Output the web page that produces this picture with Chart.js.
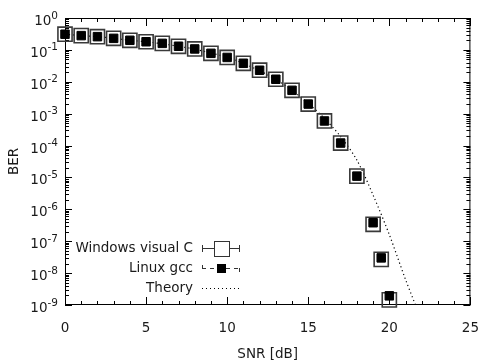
<!DOCTYPE html>
<html>
<head>
<meta charset="utf-8">
<script src="https://cdn.jsdelivr.net/npm/chart.js@4"></script>
<style>
  html, body { margin: 0; padding: 0; background: #fff; }
  #wrap { width: 482px; height: 363px; }
</style>
</head>
<body>
<div id="wrap"><canvas id="chartCanvas" width="482" height="363"></canvas></div>
<script>
// SNR points of the two simulations
const snr = [0, 1, 2, 3, 4, 5, 6, 7, 8, 9, 10, 11, 12, 13, 14, 15, 16, 17, 18, 19, 19.5, 20];
const berWindows = [0.31, 0.28, 0.26, 0.23, 0.20, 0.18, 0.16, 0.13, 0.107, 0.078, 0.058, 0.038, 0.023, 0.012,
    5.4e-3, 2.0e-3, 5.9e-4, 1.2e-4, 1.1e-5, 3.4e-7, 2.7e-8, 1.45e-9];
const berLinux = [0.31, 0.28, 0.26, 0.23, 0.20, 0.18, 0.16, 0.13, 0.107, 0.078, 0.058, 0.038, 0.023, 0.012,
    5.4e-3, 2.0e-3, 5.9e-4, 1.2e-4, 1.1e-5, 3.8e-7, 3.0e-8, 1.94e-9];

// theory curve
const snrTheory = [0, 1, 2, 3, 4, 5, 6, 7, 8, 9, 10, 11, 12, 13, 14, 15, 16, 17, 18, 19, 20, 21, 22];
const berTheory = [0.31, 0.28, 0.26, 0.23, 0.20, 0.18, 0.155, 0.13, 0.105, 0.08, 0.058, 0.038, 0.022, 0.012,
    5.4e-3, 2.1e-3, 7.1e-4, 1.9e-4, 3.5e-5, 2.8e-6, 1.6e-7, 6.3e-9, 3.2e-10];

const xTicks = [0, 5, 10, 15, 20, 25];
const yExponents = [0, -1, -2, -3, -4, -5, -6, -7, -8, -9];

const textColor = '#1a1a1a';
const fontFamily = '"DejaVu Sans", sans-serif';
const fontSize = 13.5;

function toPoints(xs, ys) {
    return xs.map((x, i) => ({ x: x, y: ys[i] }));
}

// frame and inward tick marks, drawn under the markers
const framePlugin = {
    id: 'frame',
    beforeDatasetsDraw(chart) {
        const { ctx, chartArea: a, scales } = chart;
        const xs = scales.x, ys = scales.y;
        ctx.save();
        ctx.strokeStyle = '#000';
        ctx.lineWidth = 1;
        ctx.strokeRect(a.left + 0.5, a.top + 0.5, a.right - a.left - 1, a.bottom - a.top - 1);
        ctx.beginPath();
        for (let v = 0; v <= 25; v++) {
            const px = Math.round(xs.getPixelForValue(v)) + 0.5;
            const len = v % 5 === 0 ? 8 : 4;
            ctx.moveTo(px, a.bottom); ctx.lineTo(px, a.bottom - len);
            ctx.moveTo(px, a.top); ctx.lineTo(px, a.top + len);
        }
        yExponents.forEach(e => {
            const py = Math.round(ys.getPixelForValue(Math.pow(10, e))) + 0.5;
            ctx.moveTo(a.left, py); ctx.lineTo(a.left + 7, py);
            ctx.moveTo(a.right, py); ctx.lineTo(a.right - 7, py);
            if (e < 0) {
                for (let m = 2; m <= 9; m++) {
                    const pm = Math.round(ys.getPixelForValue(m * Math.pow(10, e))) + 0.5;
                    ctx.moveTo(a.left, pm); ctx.lineTo(a.left + 4, pm);
                    ctx.moveTo(a.right, pm); ctx.lineTo(a.right - 4, pm);
                }
            }
        });
        ctx.stroke();
        ctx.restore();
    }
};

// y labels as 10 with a raised exponent
const yLabelPlugin = {
    id: 'yLabels',
    afterDraw(chart) {
        const { ctx, chartArea: a, scales } = chart;
        const right = a.left - 7;
        ctx.save();
        ctx.fillStyle = textColor;
        ctx.textAlign = 'right';
        ctx.textBaseline = 'alphabetic';
        yExponents.forEach(e => {
            const py = scales.y.getPixelForValue(Math.pow(10, e));
            const exp = String(e);
            ctx.font = '10.5px ' + fontFamily;
            const w = ctx.measureText(exp).width;
            ctx.fillText(exp, right, py + 0.5);
            ctx.font = fontSize + 'px ' + fontFamily;
            ctx.fillText('10', right - w, py + 7);
        });
        ctx.restore();
    }
};

// gnuplot style key, bottom left inside the plot
const keyPlugin = {
    id: 'key',
    afterDraw(chart) {
        const ctx = chart.ctx;
        const textRight = 193, x0 = 202, x1 = 240, cx = 221;
        const rows = [248, 268, 288];
        ctx.save();
        ctx.font = fontSize + 'px ' + fontFamily;
        ctx.fillStyle = textColor;
        ctx.textAlign = 'right';
        ctx.textBaseline = 'middle';
        ctx.fillText('Windows visual C', textRight, rows[0]);
        ctx.fillText('Linux gcc', textRight, rows[1]);
        ctx.fillText('Theory', textRight, rows[2]);

        ctx.strokeStyle = '#333';
        ctx.lineWidth = 1;
        // windows: errorbar with open square
        ctx.beginPath();
        ctx.moveTo(x0, rows[0] + 0.5); ctx.lineTo(x1, rows[0] + 0.5);
        ctx.moveTo(x0 + 0.5, rows[0] - 3); ctx.lineTo(x0 + 0.5, rows[0] + 4);
        ctx.moveTo(x1 - 0.5, rows[0] - 3); ctx.lineTo(x1 - 0.5, rows[0] + 4);
        ctx.stroke();
        ctx.fillStyle = '#fff';
        ctx.fillRect(cx - 7, rows[0] - 7, 15, 15);
        ctx.strokeRect(cx - 7 + 0.5, rows[0] - 7 + 0.5, 15, 15);

        // linux: dashed errorbar with filled square
        ctx.beginPath();
        ctx.setLineDash([4, 4]);
        ctx.moveTo(x0, rows[1] + 0.5); ctx.lineTo(x1, rows[1] + 0.5);
        ctx.stroke();
        ctx.setLineDash([]);
        ctx.beginPath();
        ctx.moveTo(x0 + 0.5, rows[1] - 3); ctx.lineTo(x0 + 0.5, rows[1] + 1);
        ctx.moveTo(x1 - 0.5, rows[1]); ctx.lineTo(x1 - 0.5, rows[1] + 4);
        ctx.stroke();
        ctx.fillStyle = '#000';
        ctx.fillRect(cx - 4, rows[1] - 4, 9, 9);

        // theory: dotted
        ctx.beginPath();
        ctx.strokeStyle = '#000';
        ctx.setLineDash([1, 3]);
        ctx.moveTo(x0, rows[2] + 0.5); ctx.lineTo(x1, rows[2] + 0.5);
        ctx.stroke();
        ctx.restore();
    }
};

const ctx = document.getElementById('chartCanvas').getContext('2d');

new Chart(ctx, {
    type: 'scatter',
    data: {
        datasets: [
            {
                label: 'Linux gcc',
                data: toPoints(snr, berLinux),
                showLine: false,
                pointStyle: 'rect',
                pointRadius: 6,
                pointBorderWidth: 1,
                pointBackgroundColor: '#000',
                pointBorderColor: '#000',
                clip: false,
                order: 0
            },
            {
                label: 'Windows visual C',
                data: toPoints(snr, berWindows),
                showLine: false,
                pointStyle: 'rect',
                pointRadius: 10,
                pointBorderWidth: 1.6,
                pointBackgroundColor: 'rgba(255,255,255,0)',
                pointBorderColor: '#3a3a3a',
                clip: false,
                order: 1
            },
            {
                label: 'Theory',
                data: toPoints(snrTheory, berTheory),
                showLine: true,
                borderColor: '#000',
                borderWidth: 1.2,
                borderDash: [1.2, 2.8],
                pointRadius: 0,
                fill: false,
                tension: 0.3,
                order: 2
            }
        ]
    },
    options: {
        responsive: false,
        animation: false,
        devicePixelRatio: 1,
        layout: { padding: { top: 18, right: 7, left: 0, bottom: 0 } },
        plugins: {
            legend: { display: false },
            tooltip: { enabled: false }
        },
        scales: {
            x: {
                type: 'linear',
                min: 0,
                max: 25,
                afterBuildTicks: s => { s.ticks = xTicks.map(v => ({ value: v })); },
                afterFit: s => { s.height = 58; s.paddingLeft = 0; s.paddingRight = 0; },
                grid: { display: false, drawTicks: false },
                border: { display: false },
                ticks: { color: textColor, font: { family: fontFamily, size: fontSize }, padding: 15 },
                title: {
                    display: true,
                    text: 'SNR [dB]',
                    color: textColor,
                    font: { family: fontFamily, size: fontSize },
                    padding: { top: 0, bottom: 0 }
                }
            },
            y: {
                type: 'logarithmic',
                min: 1e-9,
                max: 1,
                afterBuildTicks: s => { s.ticks = yExponents.map(e => ({ value: Math.pow(10, e) })); },
                afterFit: s => { s.width = 65; s.paddingTop = 0; s.paddingBottom = 0; },
                grid: { display: false, drawTicks: false },
                border: { display: false },
                ticks: { display: false },
                title: {
                    display: true,
                    text: 'BER',
                    color: textColor,
                    font: { family: fontFamily, size: fontSize },
                    padding: { top: 6, bottom: 0 }
                }
            }
        }
    },
    plugins: [framePlugin, yLabelPlugin, keyPlugin]
});
</script>
</body>
</html>
